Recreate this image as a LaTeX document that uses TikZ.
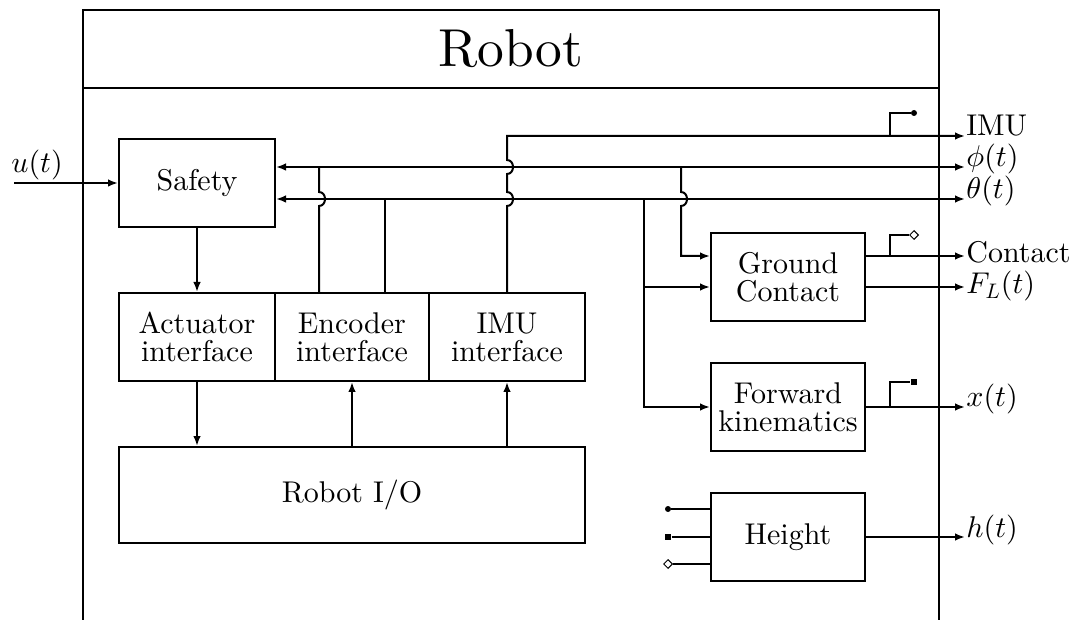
\documentclass[tikz,border=0pt]{standalone}
\usepackage{fontspec}
\setmainfont{lmroman10-regular}[Extension=.otf]
% scale the Computer Modern math fonts freely from their 10pt design
\DeclareFontShape{OML}{cmm}{m}{it}{<->cmmi10}{}
\DeclareFontShape{OT1}{cmr}{m}{n}{<->cmr10}{}
\DeclareFontShape{OMS}{cmsy}{m}{n}{<->cmsy10}{}
\usetikzlibrary{arrows.meta,shapes.geometric}
\newcommand\bodyfont{\fontsize{15}{14}\selectfont}
\newcommand\titlefont{\fontsize{26.7}{30}\selectfont}
\tikzset{
  blk/.style={draw, line width=1pt, rectangle, inner sep=0pt, align=center, font=\bodyfont},
  wire/.style={line width=1pt},
  arr/.style={wire, -{Latex[length=5pt,width=3.8pt]}},
  arrboth/.style={wire, {Latex[length=5pt,width=3.8pt]}-{Latex[length=5pt,width=3.8pt]}},
  frame/.style={line width=0.8pt},
  dotend/.style={circle, fill, inner sep=0pt, minimum size=3pt},
  sqend/.style={rectangle, fill, inner sep=0pt, minimum size=3.2pt},
  diaend/.style={diamond, draw, fill=white, line width=0.5pt, inner sep=0pt, minimum size=4.5pt},
  lab/.style={anchor=base west, inner sep=0.5pt, font=\bodyfont},
}
\begin{document}
\begin{tikzpicture}[x=0.5pt,y=-0.5pt]
\useasboundingbox (0,0) rectangle (1077,620);

% outer frame with title strip
\draw[frame] (83,620) -- (83,10) -- (939,10) -- (939,620);
\draw[frame] (83,88) -- (939,88);
\node[font=\titlefont, anchor=base, inner sep=0pt] (title) at (511,67) {Robot};

% blocks
\node[blk, minimum width=78pt,  minimum height=44pt] (safety) at (197,183) {Safety};
\node[blk, minimum width=78pt,  minimum height=44pt] (act)    at (197,337) {Actuator\\interface};
\node[blk, minimum width=77pt,  minimum height=44pt] (enc)    at (352,337) {Encoder\\interface};
\node[blk, minimum width=78pt,  minimum height=44pt] (imu)    at (507,337) {IMU\\interface};
\node[blk, minimum width=233pt, minimum height=48pt] (io)     at (352,495) {Robot I/O};
\node[blk, minimum width=77pt,  minimum height=44pt] (gc)     at (788,277) {Ground\\Contact};
\node[blk, minimum width=77pt,  minimum height=44pt] (fk)     at (788,407) {Forward\\kinematics};
\node[blk, minimum width=77pt,  minimum height=44pt] (ht)     at (788,537) {Height};

% signal end points and branch points
\coordinate (uin)    at (14,183);
\coordinate (imuout) at (965,136);
\coordinate (phiout) at (965,167);
\coordinate (thout)  at (965,199);
\coordinate (conout) at (965,256);
\coordinate (flout)  at (965,287);
\coordinate (xout)   at (965,407);
\coordinate (hout)   at (965,537);
\coordinate (phitap) at (319,167);
\coordinate (thtap)  at (385,199);
\coordinate (phibr)  at (681,167);
\coordinate (thbr)   at (644,199);
\coordinate (imutap) at (890,136);
\coordinate (contap) at (890,256);
\coordinate (xtap)   at (890,407);

% flag markers
\node[dotend] (imuflag) at (914,113) {};
\node[diaend] (conflag) at (914,235) {};
\node[sqend]  (xflag)   at (914,382) {};
\node[dotend] (hin1)    at (668,509) {};
\node[sqend]  (hin2)    at (668,537) {};
\node[diaend] (hin3)    at (668,564) {};

% input
\node[font=\bodyfont, inner sep=0pt] (ulab) at (37,165) {$u(t)$};
\draw[arr] (uin) -- (safety.west);

% internal chain
\draw[arr] (safety.south) -- (act.north);
\draw[arr] (act.south) -- (act.south |- io.north);
\draw[arr] (enc.south |- io.north) -- (enc.south);
\draw[arr] (imu.south |- io.north) -- (imu.south);

% IMU bus with bridges over theta and phi
\draw[arr] (imu.north) -- (507,206) .. controls (515,206) and (515,192) .. (507,192)
  -- (507,174) .. controls (515,174) and (515,160) .. (507,160) |- (imuout);

% encoder taps
\draw[wire] (enc.north -| phitap) -- (319,206) .. controls (327,206) and (327,192) .. (319,192) -- (phitap);
\draw[wire] (enc.north -| thtap) -- (thtap);

% phi and theta buses
\draw[arrboth] (safety.east |- phiout) -- (phiout);
\draw[arrboth] (safety.east |- thout) -- (thout);

% branches to ground contact and forward kinematics
\draw[arr] (phibr) -- (681,192) .. controls (689,192) and (689,206) .. (681,206) |- (gc.west |- conout);
\draw[arr] (thbr) |- (fk.west);
\draw[arr] (thbr |- flout) -- (gc.west |- flout);

% outputs
\draw[arr] (gc.east |- conout) -- (conout);
\draw[arr] (gc.east |- flout) -- (flout);
\draw[arr] (fk.east) -- (xout);
\draw[arr] (ht.east) -- (hout);

% flag taps
\draw[wire] (imutap) |- (imuflag);
\draw[wire] (contap) |- (conflag);
\draw[wire] (xtap) |- (xflag);

% height inputs
\draw[wire] (hin1) -- (hin1 -| ht.west);
\draw[wire] (hin2) -- (hin2 -| ht.west);
\draw[wire] (hin3) -- (hin3 -| ht.west);

% output labels
\node[lab] (limu) at (imuout) {IMU};
\node[lab] (lphi) at (phiout) {$\phi(t)$};
\node[lab] (lth)  at (thout)  {$\theta(t)$};
\node[lab, yshift=-3.5pt] (lcon) at (conout) {Contact};
\node[lab, yshift=-3.5pt] (lfl)  at (flout)  {$F_L(t)$};
\node[lab] (lx) at (xout) {$x(t)$};
\node[lab] (lh) at (hout) {$h(t)$};
\end{tikzpicture}
\end{document}
